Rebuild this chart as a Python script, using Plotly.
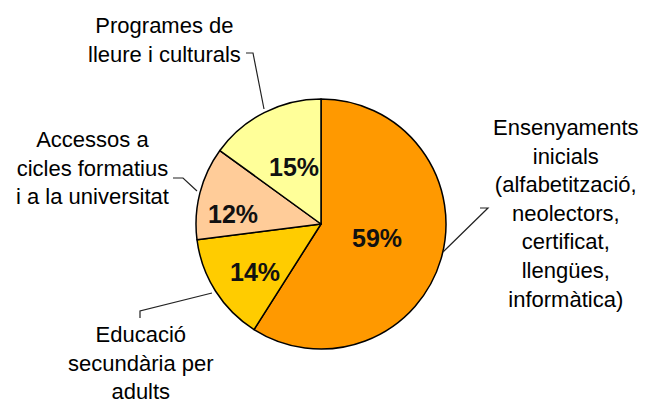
import plotly.graph_objects as go

categories = [
    "Ensenyaments<br>inicials<br>(alfabetització,<br>neolectors,<br>certificat,<br>llengües,<br>informàtica)",
    "Educació<br>secundària per<br>adults",
    "Accessos a<br>cicles formatius<br>i a la universitat",
    "Programes de<br>lleure i culturals",
]
values = [59, 14, 12, 15]
colors = ["#FF9900", "#FFCC00", "#FFCC99", "#FFFF99"]

W, H = 650, 403
OFF = 8  # page body margin offset


def px(x):
    return (x - OFF) / W


def py(y):
    return 1 - (y - OFF) / H


fig = go.Figure()
fig.add_trace(go.Pie(
    values=values,
    labels=categories,
    sort=False,
    direction="clockwise",
    rotation=0,
    marker=dict(colors=colors, line=dict(color="black", width=1.5)),
    textinfo="none",
    domain=dict(x=[px(196), px(446)], y=[py(349), py(99)]),
    showlegend=False,
    hoverinfo="label+percent",
))

total = sum(values)
pct_pos = [(377, 238), (255, 272), (233, 214), (294, 167)]
for v, (x, y) in zip(values, pct_pos):
    fig.add_annotation(
        text=f"{round(100 * v / total)}%", x=px(x), y=py(y), xref="paper", yref="paper",
        xanchor="center", yanchor="middle", showarrow=False,
        font=dict(family="Liberation Sans, Arial, sans-serif", size=25, color="#111111", weight="bold"),
    )

label_pos = [(566, 213), (141, 363), (92, 168), (164, 40)]
for txt, (x, y) in zip(categories, label_pos):
    fig.add_annotation(
        text=txt, x=px(x), y=py(y), xref="paper", yref="paper",
        xanchor="center", yanchor="middle", showarrow=False, align="center",
        font=dict(family="Liberation Sans, Arial, sans-serif", size=22, color="#000000"),
    )

leaders = [
    [(480, 208), (488, 208), (443, 252)],
    [(140, 318), (140, 311), (212, 293)],
    [(173, 178), (183, 178), (197, 191)],
    [(246, 53), (253, 53), (264, 109)],
]
for pts in leaders:
    path = "M " + " L ".join(f"{px(x)},{py(y)}" for x, y in pts)
    fig.add_shape(type="path", path=path, xref="paper", yref="paper",
                  line=dict(color="#222222", width=1.2))

fig.update_layout(
    width=W, height=H,
    margin=dict(l=0, r=0, t=0, b=0),
    paper_bgcolor="white",
    plot_bgcolor="white",
)
fig.write_html("out.html")
